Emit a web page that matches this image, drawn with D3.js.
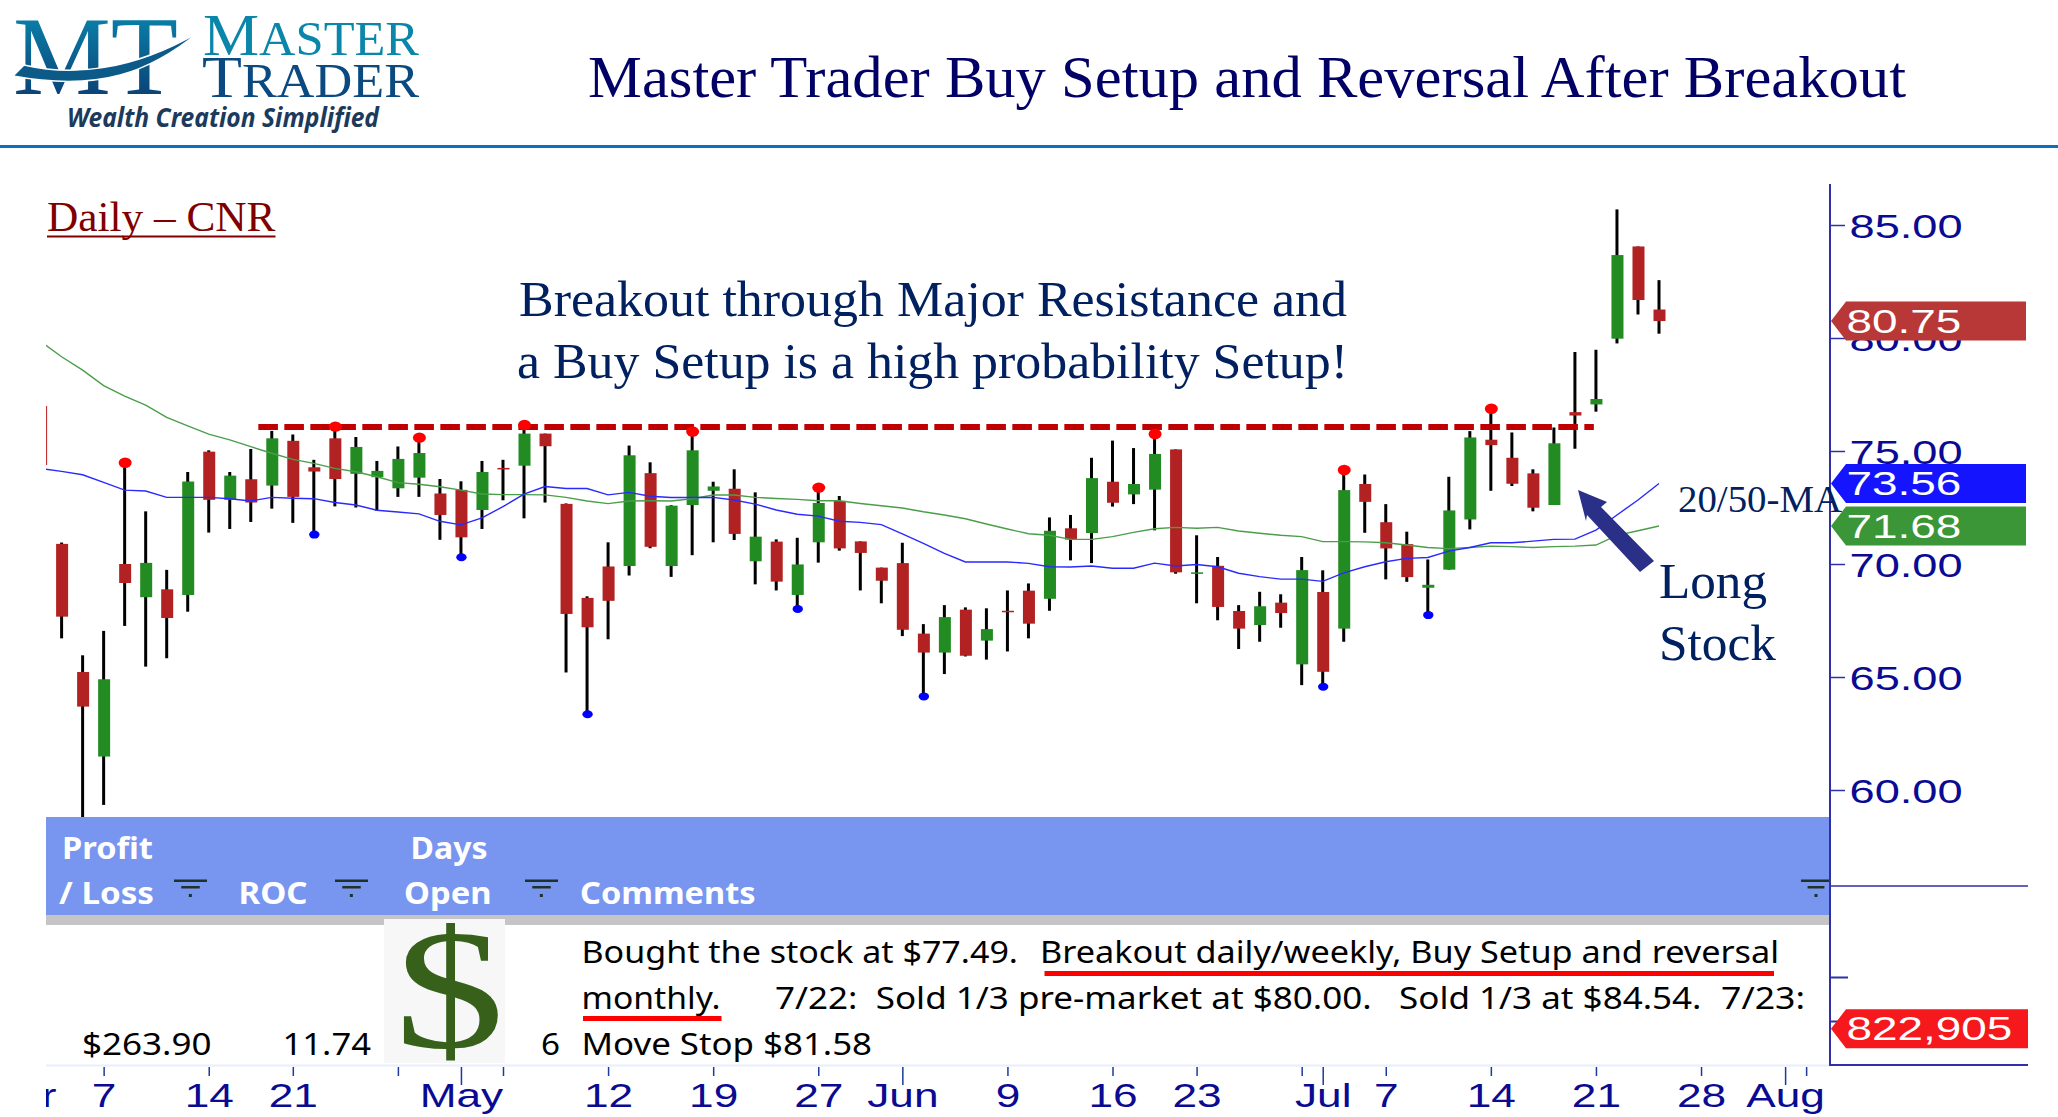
<!DOCTYPE html>
<html><head><meta charset="utf-8">
<style>html,body{margin:0;padding:0;background:#fff;overflow:hidden}svg{display:block}</style>
<script src="https://cdn.jsdelivr.net/npm/d3@7/dist/d3.min.js"></script>
</head><body><svg id="c" width="2058" height="1117"></svg>
<script>
// ---------- data (prices in $) ----------
const opens=[70.89,65.22,61.48,70.00,68.53,68.88,68.63,74.97,72.84,73.75,73.47,75.45,74.28,75.56,73.99,73.84,73.35,73.82,73.12,73.28,72.39,74.25,74.35,75.77,72.66,68.50,69.89,69.91,74.02,69.91,72.61,
73.24,73.33,70.12,70.99,68.63,70.96,72.79,71.00,69.84,70.04,66.92,66.08,67.98,66.61,67.93,68.82,68.46,71.58,71.37,73.64,73.08,73.29,75.07,69.59,69.92,67.92,67.30,68.29,65.56,68.76,67.14,
73.54,71.85,70.88,68.95,69.75,71.97,75.50,74.70,74.01,72.61,76.72,77.06,79.97,84.05,81.26];
const closes=[67.67,63.69,64.90,69.16,70.05,67.61,73.65,72.84,73.91,72.72,75.56,72.97,74.09,73.76,75.18,74.12,74.65,74.91,72.17,71.18,74.07,74.21,75.77,75.21,67.79,67.20,68.37,74.81,70.76,72.58,75.03,
73.43,71.33,71.21,69.22,69.98,72.70,70.69,70.49,69.26,67.09,66.08,67.65,65.94,67.12,67.89,67.36,71.47,71.08,73.80,72.71,73.54,74.87,69.63,69.63,68.10,67.14,68.13,67.83,69.73,65.23,73.27,
72.75,70.69,69.42,69.08,72.37,75.60,75.26,73.55,72.49,75.34,76.57,77.30,83.67,81.68,80.75];
const highs=[70.95,65.96,67.04,74.48,72.33,69.74,74.07,75.03,74.07,75.09,75.89,75.73,74.61,76.08,75.62,74.56,75.20,75.59,73.76,73.66,74.56,74.61,76.15,75.77,72.68,68.57,70.96,75.24,74.50,72.60,75.86,
73.64,74.19,73.17,71.09,71.16,73.38,73.01,71.00,69.84,70.94,67.34,68.18,68.08,68.04,68.83,69.14,72.06,72.17,74.70,75.46,75.13,75.75,75.07,71.27,70.31,68.18,68.77,68.66,70.31,69.72,74.16,
73.96,72.65,71.43,70.20,73.86,75.88,76.87,75.82,74.19,76.04,79.38,79.48,85.69,84.05,82.56];
const lows=[66.71,58.70,59.34,67.26,65.46,65.83,67.89,71.39,71.55,71.86,72.45,71.82,71.30,72.55,72.50,72.35,72.97,72.97,71.07,70.30,71.55,72.82,72.02,72.72,65.20,63.35,66.67,69.49,70.70,69.43,70.39,
70.96,71.06,69.10,68.83,68.01,70.06,70.59,68.83,68.26,66.81,64.14,65.13,65.91,65.77,66.13,66.71,67.93,70.16,70.04,72.54,72.65,71.49,69.57,68.26,67.51,66.24,66.56,67.18,64.64,64.57,66.56,
71.38,69.32,69.21,67.74,69.75,71.53,73.24,73.45,72.33,72.61,75.10,76.74,79.76,81.04,80.19];
// moving averages start one session before the first candle
const ma20=[74.22,74.10,73.95,73.61,73.27,73.23,72.95,72.95,72.95,72.89,72.79,72.95,72.91,72.89,72.72,72.61,72.38,72.30,72.22,71.89,71.73,72.04,72.54,73.09,73.43,73.34,73.34,73.06,73.17,73.00,72.94,72.94,
72.95,72.83,72.65,72.39,72.20,72.12,71.89,71.84,71.74,71.33,70.91,70.47,70.09,70.09,70.09,70.03,69.88,69.87,69.91,69.81,69.81,70.04,69.91,69.98,69.88,69.59,69.44,69.33,69.33,69.23,69.61,
69.88,70.10,70.25,70.29,70.57,70.73,70.94,70.94,71.01,71.09,71.10,71.50,72.17,72.83,73.56];
const ma50=[79.85,79.17,78.58,77.89,77.43,77.03,76.49,76.11,75.75,75.49,75.19,74.90,74.63,74.45,74.23,74.08,73.86,73.60,73.53,73.42,73.27,73.10,73.07,73.07,73.06,72.95,72.79,72.67,72.79,72.80,72.79,72.89,
73.05,73.05,72.95,72.90,72.86,72.80,72.80,72.68,72.58,72.48,72.31,72.17,72.00,71.77,71.55,71.34,71.27,71.09,71.09,71.21,71.40,71.56,71.62,71.58,71.62,71.46,71.36,71.27,71.21,70.99,70.99,
70.98,70.94,70.84,70.73,70.68,70.73,70.79,70.77,70.73,70.77,70.79,70.84,71.27,71.47,71.68];
const highPivots=[3,13,17,22,30,36,52,61,68];
const lowPivots=[12,19,25,35,41,60,65];
const resistance=76.06, resistanceFrom=9.36, resistanceTo=72.9;
const priceTicks=[85,80,75,70,65,60];
const dateTicks=[-1.9,2,7,11,16,19,21,26,31,36,40,45,50,54,59,60,63,68,73,78,82,83];
const dateLabels=["Apr","7","14","21","","May","","12","19","27","Jun","9","16","23","","Jul","7","14","21","28","Aug",""];
const monthTicks=[19,40,60,82];
const priceTags=[{v:80.75,c:"#b83737"},{v:73.56,c:"#1414ff"},{v:71.68,c:"#3a9637"}];
const lastVolume=822905, volumeTicks=[1000000,2000000];

// ---------- scales ----------
const svg=d3.select("#c");
const x=d3.scaleLinear().domain([0,76]).range([61.6,1659]);
const y=d3.scaleLinear().domain([85,60]).range([225,790]);
const yVol=d3.scaleLinear().domain([0,2000000]).range([1065,977]);
const RED="#b22222",GREEN="#228b22",AX="#2f2fa8",INK="#002060",TICKTXT="#0a0a92";
const SERIF="'Liberation Serif','Times New Roman',serif",SANS="'Liberation Sans',Arial,sans-serif",BODY="'Noto Sans','Open Sans',sans-serif";

function T(parent,s,x1,x2,base,size,fam,fill,extra){
  const t=parent.append("text").text(s).attr("x",x1).attr("y",base).attr("font-size",size)
    .attr("font-family",fam).attr("fill",fill).attr("textLength",x2-x1).attr("lengthAdjust","spacingAndGlyphs")
    .style("white-space","pre");
  for(const k in (extra||{})) t.attr(k,extra[k]);
  return t;
}
const defs=svg.append("defs");
defs.append("clipPath").attr("id","plot").append("rect").attr("x",46).attr("y",150).attr("width",1784).attr("height",667);
defs.append("clipPath").attr("id","dateClip").append("rect").attr("x",46).attr("y",1060).attr("width",1784).attr("height",57);
const grad=defs.append("linearGradient").attr("id","logo").attr("x1",0).attr("x2",0).attr("y1",0).attr("y2",1);
grad.append("stop").attr("offset","0%").attr("stop-color","#0a90b8");
grad.append("stop").attr("offset","100%").attr("stop-color","#0b3268");

// ---------- header ----------
const h=svg.append("g");
T(h,"MT",13,178,94,112,SERIF,"url(#logo)");
h.append("path").attr("d","M13,76 L24,65 C70,76 130,72 199,32 C150,72 100,92 13,76 Z").attr("fill","#0b5a88").attr("stroke","#fff").attr("stroke-width",1.5);
const m=h.append("text").attr("x",203).attr("y",55).attr("font-family",SERIF).attr("fill","#0a86aa").attr("textLength",216).attr("lengthAdjust","spacingAndGlyphs");
m.append("tspan").attr("font-size",60).text("M");m.append("tspan").attr("font-size",48).text("ASTER");
const tr=h.append("text").attr("x",202).attr("y",97).attr("font-family",SERIF).attr("fill","#0b4a80").attr("textLength",217).attr("lengthAdjust","spacingAndGlyphs");
tr.append("tspan").attr("font-size",60).text("T");tr.append("tspan").attr("font-size",48).text("RADER");
T(h,"Wealth Creation Simplified",67,379,127,26,BODY,"#1b3a5c",{"font-weight":"bold","font-style":"italic"});
h.append("rect").attr("x",0).attr("y",145).attr("width",2058).attr("height",3).attr("fill","#0c70bd");
T(h,"Master Trader Buy Setup and Reversal After Breakout",588,1906,96.5,60,SERIF,"#000066");
T(h,"Daily – CNR",47,275.5,231,42,SERIF,"#800000");
h.append("rect").attr("x",47).attr("y",235.5).attr("width",228.5).attr("height",2).attr("fill","#800000");
T(h,"Breakout through Major Resistance and",519,1347,316,50,SERIF,INK);
T(h,"a Buy Setup is a high probability Setup!",517,1348,378,50,SERIF,INK);

// ---------- candles ----------
const idx=d3.range(opens.length);
const plot=svg.append("g").attr("clip-path","url(#plot)");
plot.append("line").attr("x1",46.5).attr("x2",46.5).attr("y1",406).attr("y2",465).attr("stroke","#c03030").attr("stroke-width",1.2);
plot.selectAll("line.w").data(idx).join("line").attr("class","w")
  .attr("x1",i=>x(i)).attr("x2",i=>x(i)).attr("y1",i=>y(highs[i])).attr("y2",i=>y(lows[i]))
  .attr("stroke","#000").attr("stroke-width",3);
plot.selectAll("rect.b").data(idx).join("rect").attr("class","b")
  .attr("x",i=>x(i)-5.5).attr("width",12)
  .attr("y",i=>y(Math.max(opens[i],closes[i])))
  .attr("height",i=>Math.max(1.5,Math.abs(y(opens[i])-y(closes[i]))))
  .attr("fill",i=>closes[i]>opens[i]?GREEN:RED);
const line=d3.line().x((d,i)=>x(i-1)).y(d=>y(d));
plot.append("path").attr("d",line(ma50)).attr("fill","none").attr("stroke","#4a9e4a").attr("stroke-width",1.4);
plot.append("path").attr("d",line(ma20)).attr("fill","none").attr("stroke","#2a2aff").attr("stroke-width",1.4);
plot.append("line").attr("x1",x(resistanceFrom)).attr("x2",x(resistanceTo)).attr("y1",y(resistance)).attr("y2",y(resistance))
  .attr("stroke","#c00000").attr("stroke-width",6).attr("stroke-dasharray","19.6 6.4");
plot.selectAll("ellipse.h").data(highPivots).join("ellipse").attr("class","h").attr("cx",i=>x(i)+0.5).attr("cy",i=>y(highs[i])).attr("rx",6.5).attr("ry",5.2).attr("fill","#ff0000");
plot.selectAll("ellipse.l").data(lowPivots).join("ellipse").attr("class","l").attr("cx",i=>x(i)+0.5).attr("cy",i=>y(lows[i])).attr("rx",5.2).attr("ry",4).attr("fill","#0000ff");

// ---------- table band ----------
const tb=svg.append("g");
tb.append("rect").attr("x",46).attr("y",817).attr("width",1784).attr("height",98).attr("fill","#7895ef");
tb.append("rect").attr("x",46).attr("y",915).attr("width",1784).attr("height",10).attr("fill","#c5c5c5");
const W={"font-weight":"bold"};
T(tb,"Profit",62,153,859,31,BODY,"#fff",W);
T(tb,"/ Loss",59,154,904,31,BODY,"#fff",W);
T(tb,"ROC",238.5,307.5,904,31,BODY,"#fff",W);
T(tb,"Days",410.6,487.5,859,31,BODY,"#fff",W);
T(tb,"Open",404,491.5,904,31,BODY,"#fff",W);
T(tb,"Comments",580,755.6,904,31,BODY,"#fff",W);
[[174,33],[335,33],[525,33],[1801,30]].forEach(([a,w])=>{
  tb.append("rect").attr("x",a).attr("y",879.5).attr("width",w).attr("height",2.5).attr("fill","#1d3328");
  tb.append("rect").attr("x",a+w*0.22).attr("y",886).attr("width",w*0.56).attr("height",2.5).attr("fill","#1d3328");
  tb.append("rect").attr("x",a+w*0.45).attr("y",894).attr("width",3).attr("height",3).attr("fill","#1d3328");
});
tb.append("rect").attr("x",384).attr("y",919).attr("width",121).attr("height",144).attr("fill","#f7f7f7");
tb.append("text").text("$").attr("font-family",SERIF).attr("font-size",172).attr("fill","#37611b").attr("text-anchor","middle")
  .attr("transform","translate(449.5,1047) scale(1.28,1)");
const K="#000", BS=31;
T(tb,"Bought the stock at $77.49.",581.5,1018,963,BS,BODY,K);
T(tb,"Breakout daily/weekly, Buy Setup and reversal",1040,1779,963,BS,BODY,K);
T(tb,"monthly.",581.5,720.5,1009,BS,BODY,K);
T(tb,"7/22:  Sold 1/3 pre-market at $80.00.",775,1371.6,1009,BS,BODY,K);
T(tb,"Sold 1/3 at $84.54.",1399,1701.5,1009,BS,BODY,K);
T(tb,"7/23:",1721,1805,1009,BS,BODY,K);
T(tb,"$263.90",82,211.5,1055,BS,BODY,K);
T(tb,"11.74",282.5,371,1055,BS,BODY,K);
T(tb,"6",541,560,1055,BS,BODY,K);
T(tb,"Move Stop $81.58",581.5,872,1055,BS,BODY,K);
tb.append("rect").attr("x",1044.5).attr("y",971).attr("width",729.5).attr("height",5).attr("fill","#ff0000");
tb.append("rect").attr("x",583).attr("y",1016).attr("width",138.5).attr("height",5).attr("fill","#ff0000");

// ---------- date axis ----------
const da=svg.append("g").attr("clip-path","url(#dateClip)").append("g").attr("transform","translate(0,1067)")
  .call(d3.axisBottom(x).tickValues(dateTicks).tickSize(9).tickFormat(d=>dateLabels[dateTicks.indexOf(d)]));
da.select(".domain").remove();
da.selectAll("line").attr("stroke","#1a3a9e").attr("stroke-width",1.5).attr("y2",d=>monthTicks.includes(d)?18:9);
da.selectAll("text").attr("y",40).attr("dy",0).attr("font-size",34).attr("font-family",SANS).attr("fill",TICKTXT).attr("transform","scale(1.3,1)");
svg.append("line").attr("x1",46).attr("x2",1830).attr("y1",1065.5).attr("y2",1065.5).attr("stroke","#e8eefc").attr("stroke-width",2);

// ---------- price axis ----------
const pa=svg.append("g").attr("transform","translate(1830,0)")
  .call(d3.axisRight(y).tickValues(priceTicks).tickSize(15).tickFormat(d3.format(".2f")));
pa.select(".domain").remove();
pa.selectAll("line").attr("stroke",AX).attr("stroke-width",1.5);
pa.selectAll("text").attr("x",0).attr("dy",0).attr("y",12).attr("font-size",34).attr("font-family",SANS).attr("fill",TICKTXT)
  .attr("transform","translate(19.5,0) scale(1.33,1)").attr("text-anchor","start");

const va=svg.append("g").attr("transform","translate(1830,0)")
  .call(d3.axisRight(yVol).tickValues(volumeTicks).tickSize(18).tickFormat(""));
va.select(".domain").remove();
va.selectAll("line").attr("stroke",AX).attr("stroke-width",2);
svg.append("line").attr("x1",1830).attr("x2",1830).attr("y1",184).attr("y2",1066).attr("stroke",AX).attr("stroke-width",2);
svg.append("line").attr("x1",1830).attr("x2",2028).attr("y1",886).attr("y2",886).attr("stroke",AX).attr("stroke-width",1.5);
svg.append("line").attr("x1",1830).attr("x2",2028).attr("y1",1065).attr("y2",1065).attr("stroke",AX).attr("stroke-width",2);

// ---------- value tags ----------
function tag(cy,color,label,xr){
  const g=svg.append("g");
  g.append("polygon").attr("points",[[1831,cy],[1846,cy-19.5],[xr,cy-19.5],[xr,cy+19.5],[1846,cy+19.5]].join(" ")).attr("fill",color);
  g.append("text").text(label).attr("font-family",SANS).attr("font-size",34).attr("fill","#fff")
    .attr("transform",`translate(1846.5,${cy+11.5}) scale(1.35,1)`);
}
priceTags.forEach(p=>tag(y(p.v),p.c,d3.format(".2f")(p.v),2026));
tag(yVol(lastVolume),"#f5181c",d3.format(",")(lastVolume),2028);

// ---------- annotations ----------
svg.append("polygon").attr("points","1578,490 1607,502 1601,507 1654,561 1640,572 1587,515 1586,521").attr("fill","#2a3087");
T(svg,"20/50-MA",1678,1842,511.5,38,SERIF,INK);
T(svg,"Long",1659,1767,598,50,SERIF,INK);
T(svg,"Stock",1659,1776,660,50,SERIF,INK);
</script></body></html>
